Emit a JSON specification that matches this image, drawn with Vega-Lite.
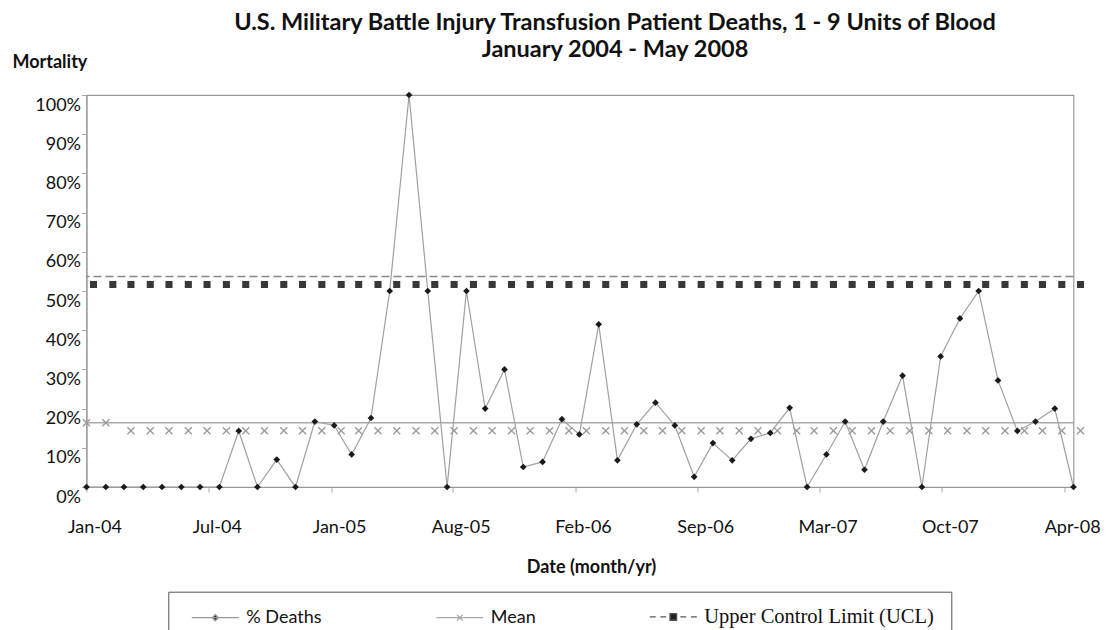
{
  "$schema": "https://vega.github.io/schema/vega-lite/v6.json",
  "width": 987,
  "height": 392,
  "autosize": {"type": "none"},
  "padding": {"left": 86.5, "top": 95, "right": 32.5, "bottom": 143},
  "background": "white",
  "config": {
    "view": {"stroke": "#999", "strokeWidth": 1.2},
    "font": "Lato",
    "axis": {"labelOverlap": false}
  },
  "title": {
    "text": ["U.S. Military Battle Injury Transfusion Patient Deaths, 1 - 9 Units of Blood", "January 2004 - May 2008"],
    "font": "Lato",
    "fontSize": 23.5,
    "fontWeight": "bold",
    "color": "#111",
    "anchor": "middle",
    "dx": 35,
    "offset": -8,
    "lineHeight": 27
  },
  "datasets": {
    "monthly": [
      {"date": "2004-01-01", "pct": 0, "mean": 16.4, "ucl": 53.7},
      {"date": "2004-02-01", "pct": 0, "mean": 16.4, "ucl": 53.7},
      {"date": "2004-03-01", "pct": 0, "mean": 16.4, "ucl": 53.7},
      {"date": "2004-04-01", "pct": 0, "mean": 16.4, "ucl": 53.7},
      {"date": "2004-05-01", "pct": 0, "mean": 16.4, "ucl": 53.7},
      {"date": "2004-06-01", "pct": 0, "mean": 16.4, "ucl": 53.7},
      {"date": "2004-07-01", "pct": 0, "mean": 16.4, "ucl": 53.7},
      {"date": "2004-08-01", "pct": 0, "mean": 16.4, "ucl": 53.7},
      {"date": "2004-09-01", "pct": 14.3, "mean": 16.4, "ucl": 53.7},
      {"date": "2004-10-01", "pct": 0, "mean": 16.4, "ucl": 53.7},
      {"date": "2004-11-01", "pct": 7, "mean": 16.4, "ucl": 53.7},
      {"date": "2004-12-01", "pct": 0, "mean": 16.4, "ucl": 53.7},
      {"date": "2005-01-01", "pct": 16.7, "mean": 16.4, "ucl": 53.7},
      {"date": "2005-02-01", "pct": 15.7, "mean": 16.4, "ucl": 53.7},
      {"date": "2005-03-01", "pct": 8.3, "mean": 16.4, "ucl": 53.7},
      {"date": "2005-04-01", "pct": 17.6, "mean": 16.4, "ucl": 53.7},
      {"date": "2005-05-01", "pct": 50, "mean": 16.4, "ucl": 53.7},
      {"date": "2005-06-01", "pct": 100, "mean": 16.4, "ucl": 53.7},
      {"date": "2005-07-01", "pct": 50, "mean": 16.4, "ucl": 53.7},
      {"date": "2005-08-01", "pct": 0, "mean": 16.4, "ucl": 53.7},
      {"date": "2005-09-01", "pct": 50, "mean": 16.4, "ucl": 53.7},
      {"date": "2005-10-01", "pct": 20, "mean": 16.4, "ucl": 53.7},
      {"date": "2005-11-01", "pct": 30, "mean": 16.4, "ucl": 53.7},
      {"date": "2005-12-01", "pct": 5.1, "mean": 16.4, "ucl": 53.7},
      {"date": "2006-01-01", "pct": 6.4, "mean": 16.4, "ucl": 53.7},
      {"date": "2006-02-01", "pct": 17.3, "mean": 16.4, "ucl": 53.7},
      {"date": "2006-03-01", "pct": 13.4, "mean": 16.4, "ucl": 53.7},
      {"date": "2006-04-01", "pct": 41.5, "mean": 16.4, "ucl": 53.7},
      {"date": "2006-05-01", "pct": 6.8, "mean": 16.4, "ucl": 53.7},
      {"date": "2006-06-01", "pct": 16, "mean": 16.4, "ucl": 53.7},
      {"date": "2006-07-01", "pct": 21.5, "mean": 16.4, "ucl": 53.7},
      {"date": "2006-08-01", "pct": 15.7, "mean": 16.4, "ucl": 53.7},
      {"date": "2006-09-01", "pct": 2.6, "mean": 16.4, "ucl": 53.7},
      {"date": "2006-10-01", "pct": 11.2, "mean": 16.4, "ucl": 53.7},
      {"date": "2006-11-01", "pct": 6.8, "mean": 16.4, "ucl": 53.7},
      {"date": "2006-12-01", "pct": 12.3, "mean": 16.4, "ucl": 53.7},
      {"date": "2007-01-01", "pct": 13.8, "mean": 16.4, "ucl": 53.7},
      {"date": "2007-02-01", "pct": 20.2, "mean": 16.4, "ucl": 53.7},
      {"date": "2007-03-01", "pct": 0, "mean": 16.4, "ucl": 53.7},
      {"date": "2007-04-01", "pct": 8.3, "mean": 16.4, "ucl": 53.7},
      {"date": "2007-05-01", "pct": 16.7, "mean": 16.4, "ucl": 53.7},
      {"date": "2007-06-01", "pct": 4.4, "mean": 16.4, "ucl": 53.7},
      {"date": "2007-07-01", "pct": 16.7, "mean": 16.4, "ucl": 53.7},
      {"date": "2007-08-01", "pct": 28.4, "mean": 16.4, "ucl": 53.7},
      {"date": "2007-09-01", "pct": 0, "mean": 16.4, "ucl": 53.7},
      {"date": "2007-10-01", "pct": 33.3, "mean": 16.4, "ucl": 53.7},
      {"date": "2007-11-01", "pct": 43, "mean": 16.4, "ucl": 53.7},
      {"date": "2007-12-01", "pct": 50, "mean": 16.4, "ucl": 53.7},
      {"date": "2008-01-01", "pct": 27.2, "mean": 16.4, "ucl": 53.7},
      {"date": "2008-02-01", "pct": 14.3, "mean": 16.4, "ucl": 53.7},
      {"date": "2008-03-01", "pct": 16.7, "mean": 16.4, "ucl": 53.7},
      {"date": "2008-04-01", "pct": 20, "mean": 16.4, "ucl": 53.7},
      {"date": "2008-05-01", "pct": 0, "mean": 16.4, "ucl": 53.7}
    ],
    "legend": [
      {"series": "% Deaths"},
      {"series": "Mean"},
      {"series": "Upper Control Limit (UCL)"}
    ]
  },
  "layer": [
    {
      "data": {"name": "monthly"},
      "mark": {"type": "rule", "color": "#aaaaaa", "strokeWidth": 1.5},
      "encoding": {
        "y": {"aggregate": "max", "field": "mean", "type": "quantitative", "title": "Mortality",
          "scale": {"domain": [0, 100], "nice": false, "zero": true},
          "axis": {
            "values": [0, 10, 20, 30, 40, 50, 60, 70, 80, 90, 100],
            "tickCount": 20,
            "labelExpr": "datum.value + '%'",
            "labelBaseline": "top",
            "labelOffset": 1,
            "labelPadding": 1,
            "labelOverlap": false,
            "labelSeparation": -60,
            "tickSize": 5,
            "tickColor": "#aaaaaa",
            "domainColor": "#999999",
            "grid": false,
            "labelFont": "Lato",
            "labelFontSize": 18,
            "labelColor": "#111111",
            "labelFlush": false,
            "titleAngle": 0,
            "titleAlign": "left",
            "titleBaseline": "middle",
            "titleX": -74.5,
            "titleY": -33,
            "titleFont": "Lato",
            "titleFontSize": 18,
            "titleFontWeight": "bold",
            "titleColor": "#111111"
          }
        }
      }
    },
    {
      "data": {"name": "monthly"},
      "mark": {"type": "rule", "color": "#888888", "strokeWidth": 1.5, "strokeDash": [8, 4]},
      "encoding": {
        "y": {"aggregate": "max", "field": "ucl", "type": "quantitative", "title": "Mortality"}
      }
    },
    {
      "data": {"name": "monthly"},
      "mark": {"type": "point", "shape": "square", "filled": true, "color": "#383838", "opacity": 1, "size": 50, "xOffset": 7, "yOffset": 8},
      "encoding": {
        "x": {"field": "date", "type": "temporal", "title": "Date (month/yr)",
          "scale": {"type": "utc", "domain": [{"year": 2004, "month": 1, "date": 1, "utc": true}, {"year": 2008, "month": 5, "date": 1, "utc": true}]},
          "axis": {
            "values": [
              {"year": 2004, "month": 1, "date": 1, "utc": true},
              {"year": 2004, "month": 7, "date": 15, "utc": true},
              {"year": 2005, "month": 1, "date": 27, "utc": true},
              {"year": 2005, "month": 8, "date": 10, "utc": true},
              {"year": 2006, "month": 2, "date": 22, "utc": true},
              {"year": 2006, "month": 9, "date": 6, "utc": true},
              {"year": 2007, "month": 3, "date": 21, "utc": true},
              {"year": 2007, "month": 10, "date": 3, "utc": true},
              {"year": 2008, "month": 4, "date": 16, "utc": true}
            ],
            "tickCount": 20,
            "labelExpr": "utcFormat(datum.value, '%b-%y')",
            "labelOffset": 8,
            "labelPadding": 35,
            "labelBaseline": "middle",
            "tickSize": 5,
            "tickColor": "#aaaaaa",
            "domainColor": "#999999",
            "grid": false,
            "labelFont": "Lato",
            "labelFontSize": 18,
            "labelColor": "#111111",
            "labelFlush": false,
            "labelOverlap": false,
            "titleX": 504.5,
            "titleY": 80,
            "titleAlign": "center",
            "titleBaseline": "middle",
            "titleFont": "Lato",
            "titleFontSize": 18,
            "titleFontWeight": "bold",
            "titleColor": "#111111"
          }
        },
        "y": {"field": "ucl", "type": "quantitative", "title": "Mortality"}
      }
    },
    {
      "data": {"name": "monthly"},
      "transform": [{"filter": "time(datum.date) >= utc(2004, 2, 1)"}],
      "mark": {"type": "point", "shape": "M-1,-1L1,1M-1,1L1,-1", "filled": false, "color": "#999999", "opacity": 1, "strokeWidth": 1.3, "size": 50, "xOffset": 7, "yOffset": 8},
      "encoding": {
        "x": {"field": "date", "type": "temporal", "title": "Date (month/yr)"},
        "y": {"field": "mean", "type": "quantitative", "title": "Mortality"}
      }
    },
    {
      "data": {"name": "monthly"},
      "transform": [{"filter": "time(datum.date) < utc(2004, 2, 1)"}],
      "mark": {"type": "point", "shape": "M-1,-1L1,1M-1,1L1,-1", "filled": false, "color": "#999999", "opacity": 1, "strokeWidth": 1.3, "size": 50},
      "encoding": {
        "x": {"field": "date", "type": "temporal", "title": "Date (month/yr)"},
        "y": {"field": "mean", "type": "quantitative", "title": "Mortality"}
      }
    },
    {
      "data": {"name": "monthly"},
      "mark": {"type": "line", "color": "#a0a0a0", "strokeWidth": 1.2},
      "encoding": {
        "x": {"field": "date", "type": "temporal", "title": "Date (month/yr)"},
        "y": {"field": "pct", "type": "quantitative", "title": "Mortality"}
      }
    },
    {
      "data": {"name": "monthly"},
      "mark": {"type": "point", "shape": "diamond", "filled": true, "color": "#1a1a1a", "opacity": 1, "size": 45},
      "encoding": {
        "x": {"field": "date", "type": "temporal", "title": "Date (month/yr)"},
        "y": {"field": "pct", "type": "quantitative", "title": "Mortality"}
      }
    },
    {
      "data": {"name": "legend"},
      "mark": {"type": "point", "filled": false, "fill": "#222222", "opacity": 0},
      "encoding": {
        "color": {
          "field": "series", "type": "nominal",
          "scale": {"domain": ["% Deaths", "Mean", "Upper Control Limit (UCL)"], "range": ["#999999", "#aaaaaa", "#555555"]},
          "legend": {
            "title": null, "orient": "none", "legendX": 81.8, "legendY": 496.7, "direction": "horizontal",
            "symbolSize": 2209, "clipHeight": 16, "symbolOffset": 5.5, "labelOffset": 6.5, "columnPadding": 107.5,
            "padding": 17, "strokeColor": "#555555", "fillColor": "white", "symbolStrokeWidth": 1.3,
            "symbolFillColor": "#222222", "symbolOpacity": 1, "labelColor": "#111111",
            "labelFontSize": {"expr": "datum.value === 'Upper Control Limit (UCL)' ? 20.5 : 18"},
            "labelFont": {"expr": "datum.value === 'Upper Control Limit (UCL)' ? 'Liberation Serif' : 'Lato'"},
            "labelLimit": 300, "labelBaseline": "middle"
          }
        },
        "shape": {
          "field": "series", "type": "nominal",
          "scale": {"domain": ["% Deaths", "Mean", "Upper Control Limit (UCL)"], "range": [
            "M-1,0H1M0,-0.13L0.13,0L0,0.13L-0.13,0Z",
            "M-1,0H1M-0.12,-0.12L0.12,0.12M-0.12,0.12L0.12,-0.12",
            "M-1,0H-0.75M-0.55,0H-0.3M0.3,0H0.55M0.75,0H1M-0.14,-0.14H0.14V0.14H-0.14Z"
          ]},
          "legend": {
            "title": null, "orient": "none", "legendX": 81.8, "legendY": 496.7, "direction": "horizontal",
            "symbolSize": 2209, "clipHeight": 16, "symbolOffset": 5.5, "labelOffset": 6.5, "columnPadding": 107.5,
            "padding": 17, "strokeColor": "#555555", "fillColor": "white", "symbolStrokeWidth": 1.3,
            "symbolFillColor": "#222222", "symbolOpacity": 1, "labelColor": "#111111",
            "labelFontSize": {"expr": "datum.value === 'Upper Control Limit (UCL)' ? 20.5 : 18"},
            "labelFont": {"expr": "datum.value === 'Upper Control Limit (UCL)' ? 'Liberation Serif' : 'Lato'"},
            "labelLimit": 300, "labelBaseline": "middle"
          }
        }
      }
    }
  ]
}
